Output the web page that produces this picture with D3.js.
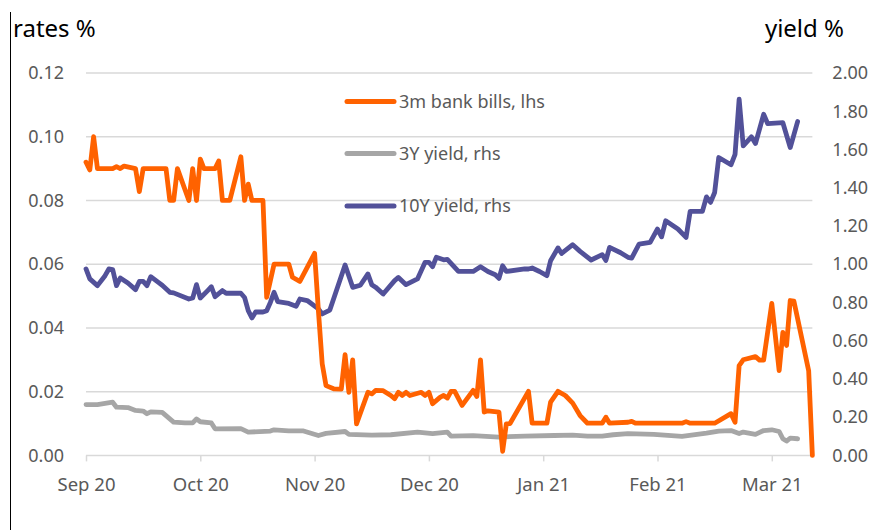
<!DOCTYPE html>
<html>
<head>
<meta charset="utf-8">
<script src="https://cdn.jsdelivr.net/npm/d3@7"></script>
<style>
	body { margin: 0; background: #fff; }
	#chart { width: 872px; height: 530px; }
	.axis text { font-family: "Noto Sans", sans-serif; font-size: 18px; fill: #595959; }
	.x.axis text { font-size: 18.5px; }
	.title { font-family: "Noto Sans", sans-serif; font-size: 24px; fill: #000; }
	.legend text { font-family: "Noto Sans", sans-serif; font-size: 18px; fill: #595959; }
</style>
</head>
<body>
<div id="chart"></div>
<script>
// Month tick labels (one per month start)
var monthStarts = ["2020-09-01", "2020-10-01", "2020-11-01", "2020-12-01", "2021-01-01", "2021-02-01", "2021-03-01", "2021-04-01"];
var monthLabels = ["Sep 20", "Oct 20", "Nov 20", "Dec 20", "Jan 21", "Feb 21", "Mar 21"];
var lastDay = "2021-03-12";

// Left axis ticks (rates %) and right axis ticks (yield %)
var leftTicks = [0, 0.02, 0.04, 0.06, 0.08, 0.10, 0.12];
var rightTicks = [0, 0.2, 0.4, 0.6, 0.8, 1.0, 1.2, 1.4, 1.6, 1.8, 2.0];

var seriesNames = ["3m bank bills, lhs", "3Y yield, rhs", "10Y yield, rhs"];

// 3m bank bills (lhs)
var bills3m = [
	["2020-09-01",0.092],["2020-09-02",0.0896],["2020-09-03",0.100],["2020-09-04",0.090],["2020-09-08",0.090],
	["2020-09-09",0.0906],["2020-09-10",0.090],["2020-09-11",0.0908],["2020-09-14",0.090],["2020-09-15",0.0828],
	["2020-09-16",0.090],["2020-09-22",0.090],["2020-09-23",0.080],["2020-09-24",0.080],["2020-09-25",0.090],
	["2020-09-28",0.080],["2020-09-29",0.090],["2020-09-30",0.080],["2020-10-01",0.093],["2020-10-02",0.090],
	["2020-10-05",0.090],["2020-10-06",0.0924],["2020-10-07",0.080],["2020-10-09",0.080],["2020-10-12",0.0937],
	["2020-10-13",0.080],["2020-10-14",0.0851],["2020-10-15",0.080],["2020-10-18",0.080],["2020-10-19",0.0496],
	["2020-10-21",0.060],["2020-10-25",0.060],["2020-10-26",0.0559],["2020-10-28",0.0546],["2020-11-01",0.0634],
	["2020-11-02",0.0454],["2020-11-03",0.0287],["2020-11-04",0.0219],["2020-11-06",0.0209],["2020-11-08",0.0208],
	["2020-11-09",0.0316],["2020-11-10",0.0198],["2020-11-11",0.030],["2020-11-12",0.0099],["2020-11-15",0.0198],
	["2020-11-16",0.0193],["2020-11-17",0.0204],["2020-11-19",0.0203],["2020-11-21",0.0188],["2020-11-22",0.0178],
	["2020-11-23",0.0198],["2020-11-24",0.0188],["2020-11-25",0.0198],["2020-11-26",0.0188],["2020-11-29",0.0198],
	["2020-11-30",0.0188],["2020-12-01",0.0198],["2020-12-02",0.0162],["2020-12-04",0.0182],["2020-12-05",0.0188],
	["2020-12-06",0.0180],["2020-12-07",0.0201],["2020-12-08",0.0201],["2020-12-10",0.0157],["2020-12-13",0.0204],
	["2020-12-14",0.0185],["2020-12-15",0.030],["2020-12-16",0.0136],["2020-12-17",0.014],["2020-12-20",0.0136],
	["2020-12-21",0.0013],["2020-12-22",0.0099],["2020-12-23",0.0100],["2020-12-28",0.0201],["2020-12-29",0.0101],
	["2021-01-02",0.0101],["2021-01-03",0.0167],["2021-01-05",0.0201],["2021-01-07",0.0188],["2021-01-09",0.0164],
	["2021-01-11",0.0125],["2021-01-13",0.0101],["2021-01-17",0.0101],["2021-01-18",0.012],["2021-01-19",0.0101],
	["2021-01-24",0.0104],["2021-01-25",0.0107],["2021-01-26",0.0101],["2021-02-07",0.0101],["2021-02-08",0.0106],
	["2021-02-09",0.0101],["2021-02-15",0.0101],["2021-02-19",0.0131],["2021-02-20",0.0104],["2021-02-21",0.0282],
	["2021-02-22",0.030],["2021-02-25",0.031],["2021-02-26",0.0299],["2021-02-27",0.0299],["2021-03-01",0.0477],
	["2021-03-03",0.0266],["2021-03-04",0.0386],["2021-03-05",0.0345],["2021-03-06",0.0486],["2021-03-07",0.0484],
	["2021-03-11",0.0266],["2021-03-12",0.0]
];

// 3Y yield (rhs)
var yield3y = [
	["2020-09-01",0.266],["2020-09-04",0.266],["2020-09-08",0.278],["2020-09-09",0.252],["2020-09-12",0.25],
	["2020-09-14",0.235],["2020-09-16",0.232],["2020-09-17",0.218],["2020-09-18",0.228],["2020-09-21",0.225],
	["2020-09-24",0.174],["2020-09-27",0.17],["2020-09-29",0.17],["2020-09-30",0.191],["2020-10-01",0.176],
	["2020-10-04",0.17],["2020-10-05",0.139],["2020-10-12",0.14],["2020-10-14",0.122],["2020-10-20",0.127],
	["2020-10-21",0.134],["2020-10-25",0.128],["2020-10-29",0.128],["2020-11-02",0.104],["2020-11-04",0.115],
	["2020-11-09",0.125],["2020-11-10",0.11],["2020-11-16",0.106],["2020-11-21",0.108],["2020-11-28",0.122],
	["2020-12-02",0.114],["2020-12-06",0.122],["2020-12-07",0.101],["2020-12-13",0.103],["2020-12-20",0.096],
	["2020-12-27",0.101],["2021-01-04",0.104],["2021-01-09",0.106],["2021-01-13",0.101],["2021-01-17",0.101],
	["2021-01-20",0.108],["2021-01-24",0.114],["2021-01-31",0.11],["2021-02-07",0.099],["2021-02-13",0.116],
	["2021-02-16",0.127],["2021-02-19",0.13],["2021-02-21",0.114],["2021-02-22",0.122],["2021-02-25",0.11],
	["2021-02-27",0.13],["2021-03-01",0.134],["2021-03-03",0.125],["2021-03-04",0.087],["2021-03-05",0.075],
	["2021-03-06",0.09],["2021-03-08",0.087]
];

// 10Y yield (rhs)
var yield10y = [
	["2020-09-01",0.975],["2020-09-02",0.923],["2020-09-04",0.888],["2020-09-06",0.94],["2020-09-07",0.975],
	["2020-09-08",0.972],["2020-09-09",0.888],["2020-09-10",0.928],["2020-09-12",0.902],["2020-09-14",0.867],
	["2020-09-15",0.91],["2020-09-16",0.91],["2020-09-17",0.888],["2020-09-18",0.935],["2020-09-20",0.905],
	["2020-09-21",0.89],["2020-09-23",0.853],["2020-09-24",0.85],["2020-09-28",0.818],["2020-09-29",0.823],
	["2020-09-30",0.893],["2020-10-01",0.823],["2020-10-03",0.862],["2020-10-04",0.882],["2020-10-05",0.83],
	["2020-10-07",0.862],["2020-10-08",0.848],["2020-10-12",0.848],["2020-10-13",0.826],["2020-10-14",0.757],
	["2020-10-15",0.719],["2020-10-16",0.75],["2020-10-18",0.75],["2020-10-19",0.757],["2020-10-20",0.80],
	["2020-10-21",0.853],["2020-10-22",0.804],["2020-10-25",0.795],["2020-10-27",0.78],["2020-10-28",0.818],
	["2020-10-30",0.81],["2020-11-02",0.766],["2020-11-03",0.74],["2020-11-05",0.76],["2020-11-09",0.996],
	["2020-11-11",0.879],["2020-11-13",0.89],["2020-11-15",0.949],["2020-11-16",0.893],["2020-11-17",0.88],
	["2020-11-19",0.844],["2020-11-22",0.914],["2020-11-23",0.931],["2020-11-25",0.893],["2020-11-28",0.923],
	["2020-11-30",1.01],["2020-12-01",1.01],["2020-12-02",0.987],["2020-12-03",1.036],["2020-12-05",1.023],
	["2020-12-06",1.025],["2020-12-08",0.983],["2020-12-09",0.962],["2020-12-13",0.962],["2020-12-15",0.987],
	["2020-12-17",0.962],["2020-12-19",0.945],["2020-12-20",0.926],["2020-12-21",0.992],["2020-12-22",0.962],
	["2020-12-27",0.975],["2020-12-28",0.975],["2020-12-29",0.98],["2020-12-31",0.962],["2021-01-02",0.94],
	["2021-01-03",1.018],["2021-01-05",1.085],["2021-01-06",1.056],["2021-01-09",1.102],["2021-01-11",1.067],
	["2021-01-14",1.022],["2021-01-17",1.05],["2021-01-18",1.02],["2021-01-19",1.088],["2021-01-22",1.06],
	["2021-01-24",1.036],["2021-01-25",1.032],["2021-01-27",1.105],["2021-01-30",1.114],["2021-01-31",1.149],
	["2021-02-01",1.184],["2021-02-02",1.143],["2021-02-03",1.227],["2021-02-06",1.184],["2021-02-08",1.14],
	["2021-02-09",1.276],["2021-02-12",1.276],["2021-02-13",1.352],["2021-02-14",1.323],["2021-02-15",1.375],
	["2021-02-16",1.558],["2021-02-19",1.52],["2021-02-20",1.575],["2021-02-21",1.863],["2021-02-22",1.619],
	["2021-02-24",1.666],["2021-02-25",1.631],["2021-02-27",1.784],["2021-02-28",1.735],["2021-03-04",1.74],
	["2021-03-06",1.61],["2021-03-08",1.746]
];

var parseDate = d3.timeParse("%Y-%m-%d");

// plot area
var margin = {top: 73, left: 86, monthWidth: 114.3, bottom: 455.4};
var width = 872, height = 530;

var svg = d3.select("#chart")
	.append("svg")
		.attr("width", width)
		.attr("height", height);

// the source axis spaces months evenly, so map each month start to an equal step
var x = d3.scaleTime()
	.domain(monthStarts.map(parseDate))
	.range(monthStarts.map(function(d, i) { return margin.left + i * margin.monthWidth; }));

var yLeft = d3.scaleLinear().domain([0, 0.12]).range([margin.bottom, margin.top]);
var yRight = d3.scaleLinear().domain([0, 2.0]).range([margin.bottom, margin.top]);

var xEnd = x(parseDate(lastDay));

// frame line on the left edge
svg.append("line")
	.attr("x1", 10.5).attr("x2", 10.5)
	.attr("y1", 12).attr("y2", height)
	.attr("stroke", "#000").attr("stroke-width", 1);

// gridlines
svg.append("g")
	.selectAll("line")
	.data(leftTicks.slice(1))
	.enter().append("line")
		.attr("x1", margin.left).attr("x2", xEnd)
		.attr("y1", function(d) { return yLeft(d); })
		.attr("y2", function(d) { return yLeft(d); })
		.attr("stroke", "#d9d9d9").attr("stroke-width", 1.5);

// x axis
var xAxis = d3.axisBottom(x)
	.tickValues(monthStarts.slice(0, 7).map(parseDate))
	.tickFormat(function(d, i) { return monthLabels[i]; })
	.tickSize(6)
	.tickPadding(16);

var gx = svg.append("g")
	.attr("class", "x axis")
	.attr("transform", "translate(0," + margin.bottom + ")")
	.call(xAxis);
gx.select(".domain").attr("d", "M" + margin.left + ",0H" + xEnd).attr("stroke", "#d9d9d9").attr("stroke-width", 1.5);
gx.selectAll(".tick line").attr("stroke", "#d9d9d9").attr("stroke-width", 1.5);

// left axis
var gyl = svg.append("g")
	.attr("class", "y axis")
	.attr("transform", "translate(" + margin.left + ",0)")
	.call(d3.axisLeft(yLeft).tickValues(leftTicks).tickFormat(d3.format(".2f")).tickSize(0).tickPadding(22));
gyl.select(".domain").remove();

// right axis
var gyr = svg.append("g")
	.attr("class", "y axis")
	.attr("transform", "translate(" + xEnd + ",0)")
	.call(d3.axisRight(yRight).tickValues(rightTicks).tickFormat(d3.format(".2f")).tickSize(0).tickPadding(20));
gyr.select(".domain").remove();

// axis titles
svg.append("text").attr("class", "title").attr("x", 13).attr("y", 37).text("rates %");
svg.append("text").attr("class", "title").attr("x", 844).attr("y", 37).attr("text-anchor", "end").text("yield %");

// lines
var lineLeft = d3.line()
	.x(function(d) { return x(parseDate(d[0])); })
	.y(function(d) { return yLeft(d[1]); });
var lineRight = d3.line()
	.x(function(d) { return x(parseDate(d[0])); })
	.y(function(d) { return yRight(d[1]); });

var colors = ["#ff6200", "#a6a6a6", "#525199"];

function drawLine(data, gen, color) {
	svg.append("path")
		.attr("d", gen(data))
		.attr("fill", "none")
		.attr("stroke", color)
		.attr("stroke-width", 4.8)
		.attr("stroke-linejoin", "round")
		.attr("stroke-linecap", "round");
}

drawLine(yield3y, lineRight, colors[1]);
drawLine(yield10y, lineRight, colors[2]);
drawLine(bills3m, lineLeft, colors[0]);

// legend
var legend = svg.append("g").attr("class", "legend");
var legendY = [101.5, 153.5, 206];
seriesNames.forEach(function(name, i) {
	legend.append("line")
		.attr("x1", 347).attr("x2", 394)
		.attr("y1", legendY[i]).attr("y2", legendY[i])
		.attr("stroke", colors[i]).attr("stroke-width", 5)
		.attr("stroke-linecap", "round");
	legend.append("text")
		.attr("x", 399).attr("y", legendY[i] + 6)
		.text(name);
});
</script>
</body>
</html>
